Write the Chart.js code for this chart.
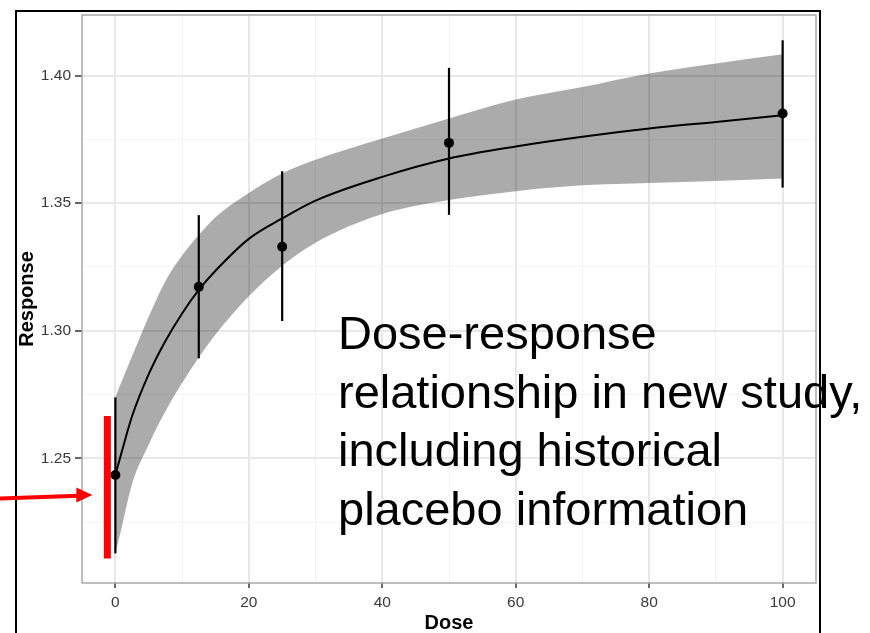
<!DOCTYPE html>
<html>
<head>
<meta charset="utf-8">
<script src="https://cdn.jsdelivr.net/npm/chart.js@4.4.1/dist/chart.umd.min.js"></script>
<style>
  html, body { margin: 0; padding: 0; background: #fff; }
  canvas { display: block; }
</style>
</head>
<body>
<canvas id="doseChart" width="870" height="633"></canvas>
<script>
// Observed doses, means and 95% intervals
const doses = [0, 12.5, 25, 50, 100]
const means = [1.2435, 1.3172, 1.3329, 1.3736, 1.3851]
const lowerCI = [1.2128, 1.2892, 1.3038, 1.3454, 1.3561]
const upperCI = [1.2739, 1.3453, 1.3625, 1.4030, 1.4138]

// Fitted curve and its band
const curveDoses = [0, 1, 2.5, 5, 7.5, 10, 12.5, 15, 20, 25, 30, 40, 50, 60, 70, 80, 90, 100]
const curveFit = [1.2435, 1.2530, 1.2665, 1.2830, 1.2960, 1.3068, 1.3160, 1.3235, 1.3360, 1.3440, 1.3510, 1.3603, 1.3675, 1.3722, 1.3760, 1.3792, 1.3818, 1.3844]
const bandUpper = [1.2740, 1.2805, 1.2900, 1.3055, 1.3195, 1.3295, 1.3375, 1.3445, 1.3540, 1.3616, 1.3670, 1.3753, 1.3832, 1.3906, 1.3955, 1.4008, 1.4047, 1.4083]
const bandLower = [1.2128, 1.2235, 1.2400, 1.2555, 1.2685, 1.2795, 1.2895, 1.2985, 1.3135, 1.3255, 1.3345, 1.3457, 1.3512, 1.3547, 1.3570, 1.3579, 1.3587, 1.3597]

// Historical placebo information (red bar)
const placeboDose = -1.2
const placeboRange = [1.2108, 1.2666]
const arrowLevel = 1.2357

// Axes
const xMajor = [0, 20, 40, 60, 80, 100]
const xMinor = [10, 30, 50, 70, 90]
const yMajor = [1.25, 1.30, 1.35, 1.40]
const yMinor = [1.225, 1.275, 1.325, 1.375]
const xRange = [-5, 105]
const yRange = [1.2012, 1.4237]

const noteLines = ['Dose-response', 'relationship in new study,', 'including historical', 'placebo information']

const FONT = '"Liberation Sans", Arial, sans-serif'

function isMajor(list, v) {
  return list.some((m) => Math.abs(m - v) < 1e-6)
}

function pts(xs, ys) {
  return xs.map((x, i) => ({ x: x, y: ys[i] }))
}

const errorBars = doses.map((d, i) => ({
  data: [{ x: d, y: lowerCI[i] }, { x: d, y: upperCI[i] }],
  showLine: true,
  borderColor: '#000',
  borderWidth: 2.2,
  pointRadius: 0,
  order: 2,
}))

// Panel border, outer frame, arrow and the note
const decorations = {
  id: 'decorations',
  afterDatasetsDraw(chart) {
    const { ctx, chartArea } = chart
    ctx.save()
    ctx.strokeStyle = '#a3a3a3'
    ctx.lineWidth = 1.4
    ctx.strokeRect(chartArea.left, chartArea.top, chartArea.right - chartArea.left, chartArea.bottom - chartArea.top)
    ctx.restore()
  },
  afterDraw(chart) {
    const { ctx } = chart
    const xs = chart.scales.x
    const ys = chart.scales.y
    ctx.save()

    // outer frame
    ctx.strokeStyle = '#000'
    ctx.lineWidth = 2
    ctx.strokeRect(16, 11, 804, 700)

    // red arrow pointing at the placebo bar
    const tipX = xs.getPixelForValue(placeboDose) - 15
    const tipY = ys.getPixelForValue(arrowLevel)
    ctx.strokeStyle = '#ff0000'
    ctx.fillStyle = '#ff0000'
    ctx.lineWidth = 4
    ctx.beginPath()
    ctx.moveTo(0, tipY + 3.5)
    ctx.lineTo(tipX - 14, tipY + 0.8)
    ctx.stroke()
    ctx.beginPath()
    ctx.moveTo(tipX, tipY)
    ctx.lineTo(tipX - 16, tipY - 7.5)
    ctx.lineTo(tipX - 16, tipY + 7.5)
    ctx.closePath()
    ctx.fill()

    // note text
    ctx.fillStyle = '#000'
    ctx.font = '47px ' + FONT
    ctx.textAlign = 'left'
    ctx.textBaseline = 'alphabetic'
    noteLines.forEach((line, i) => {
      ctx.fillText(line, 338, 349 + i * 58.5)
    })
    ctx.restore()
  },
}

const ctx = document.getElementById('doseChart').getContext('2d')

new Chart(ctx, {
  type: 'scatter',
  data: {
    datasets: [
      {
        data: pts(curveDoses, bandLower),
        showLine: true,
        borderWidth: 0,
        borderColor: 'rgba(0,0,0,0)',
        cubicInterpolationMode: 'monotone',
        pointRadius: 0,
        fill: false,
        order: 5,
      },
      {
        data: pts(curveDoses, bandUpper),
        showLine: true,
        borderWidth: 0,
        borderColor: 'rgba(0,0,0,0)',
        backgroundColor: 'rgba(0,0,0,0.33)',
        cubicInterpolationMode: 'monotone',
        pointRadius: 0,
        fill: '-1',
        order: 4,
      },
      {
        data: pts(curveDoses, curveFit),
        showLine: true,
        borderColor: '#000',
        borderWidth: 2,
        cubicInterpolationMode: 'monotone',
        pointRadius: 0,
        order: 3,
      },
      ...errorBars,
      {
        data: pts(doses, means),
        pointRadius: 5,
        pointBackgroundColor: '#000',
        pointBorderWidth: 0,
        order: 1,
      },
      {
        data: [{ x: placeboDose, y: placeboRange[0] }, { x: placeboDose, y: placeboRange[1] }],
        showLine: true,
        borderColor: '#ff0000',
        borderWidth: 7,
        borderCapStyle: 'butt',
        pointRadius: 0,
        order: 0,
      },
    ],
  },
  options: {
    responsive: false,
    animation: false,
    layout: { padding: { top: 15, right: 54, bottom: 0, left: 0 } },
    plugins: {
      legend: { display: false },
      tooltip: { enabled: false },
      filler: { drawTime: 'beforeDatasetsDraw' },
    },
    scales: {
      x: {
        type: 'linear',
        min: xRange[0],
        max: xRange[1],
        afterBuildTicks(scale) {
          scale.ticks = [...xMajor, ...xMinor].sort((a, b) => a - b).map((v) => ({ value: v }))
        },
        afterFit(scale) {
          scale.height = 50
        },
        ticks: {
          autoSkip: false,
          maxRotation: 0,
          padding: 5,
          color: '#3a3a3a',
          font: { family: FONT, size: 15.5 },
          callback: (v) => (isMajor(xMajor, v) ? String(v) : ''),
        },
        grid: {
          color: (c) => (c.tick && isMajor(xMajor, c.tick.value) ? '#e8e8e8' : '#f4f4f4'),
          lineWidth: (c) => (c.tick && isMajor(xMajor, c.tick.value) ? 2 : 1),
          tickColor: (c) => (c.tick && isMajor(xMajor, c.tick.value) ? '#333' : 'rgba(0,0,0,0)'),
          tickWidth: 1.5,
          tickLength: 5,
        },
        border: { display: false },
        title: {
          display: true,
          text: 'Dose',
          color: '#000',
          padding: { top: 0, bottom: 0 },
          font: { family: FONT, size: 20, weight: 'bold', lineHeight: 1 },
        },
      },
      y: {
        type: 'linear',
        min: yRange[0],
        max: yRange[1],
        afterBuildTicks(scale) {
          scale.ticks = [...yMajor, ...yMinor].sort((a, b) => a - b).map((v) => ({ value: v }))
        },
        afterFit(scale) {
          scale.width = 82
        },
        ticks: {
          autoSkip: false,
          padding: 4,
          color: '#3a3a3a',
          font: { family: FONT, size: 15.5 },
          callback: (v) => (isMajor(yMajor, v) ? v.toFixed(2) : ''),
        },
        grid: {
          color: (c) => (c.tick && isMajor(yMajor, c.tick.value) ? '#e8e8e8' : '#f4f4f4'),
          lineWidth: (c) => (c.tick && isMajor(yMajor, c.tick.value) ? 2 : 1),
          tickColor: (c) => (c.tick && isMajor(yMajor, c.tick.value) ? '#333' : 'rgba(0,0,0,0)'),
          tickWidth: 1.5,
          tickLength: 7,
        },
        border: { display: false },
        title: {
          display: true,
          text: 'Response',
          color: '#000',
          padding: { top: 17, bottom: 0 },
          font: { family: FONT, size: 20, weight: 'bold', lineHeight: 1 },
        },
      },
    },
  },
  plugins: [decorations],
})
</script>
</body>
</html>
